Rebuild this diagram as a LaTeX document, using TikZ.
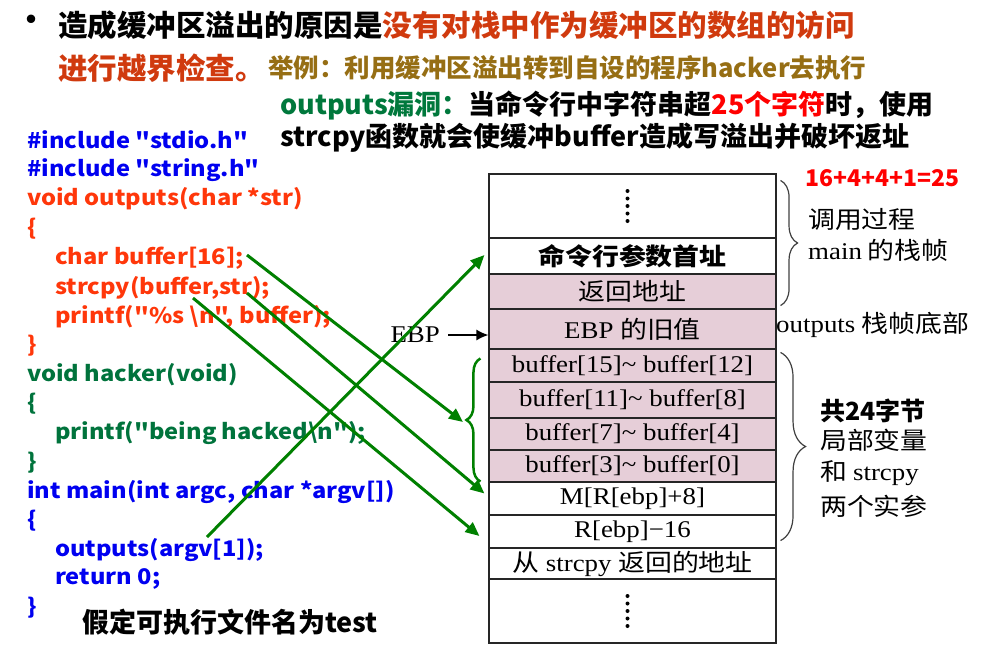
\documentclass[tikz,border=0pt]{standalone}
\usepackage{fontspec}
\setmainfont{Liberation Serif}
\newfontfamily\cjk{Noto Sans CJK SC}
\newfontfamily\codefont{Noto Sans CJK SC}[FakeStretch=1.1]
\newfontfamily\stk{Liberation Serif}[FakeStretch=1.12]
\newfontfamily\stkzh{Noto Sans CJK SC}[FakeStretch=1.12]
\usepackage{xcolor}
\usetikzlibrary{arrows.meta,positioning,calc,decorations.pathreplacing}

\definecolor{warnred}{RGB}{208,58,14}
\definecolor{olive}{RGB}{150,110,20}
\definecolor{leakgreen}{RGB}{0,120,60}
\definecolor{codeblue}{RGB}{0,0,240}
\definecolor{codered}{RGB}{255,55,10}
\definecolor{codegreen}{RGB}{0,115,60}
\definecolor{arrowgreen}{RGB}{0,128,0}
\definecolor{stackpink}{RGB}{230,206,216}

\newcommand{\zh}[1]{{\stkzh #1}}

\tikzset{
  hd/.style={anchor=west, inner sep=0pt, font={\cjk\bfseries\fontsize{29.5pt}{33pt}\selectfont}},
  hdsmall/.style={anchor=west, inner sep=0pt, font={\cjk\bfseries\fontsize{27pt}{31pt}\selectfont}},
  code/.style={anchor=west, inner sep=0pt, font={\codefont\bfseries\fontsize{21.5pt}{25pt}\selectfont}},
  slot/.style={draw=black!85, line width=1.1pt, minimum width=287pt, inner sep=0pt,
    font={\stk\fontsize{24pt}{28pt}\selectfont}},
  pinkslot/.style={slot, fill=stackpink},
  note/.style={anchor=west, inner sep=0pt, font={\stkzh\fontsize{24pt}{28pt}\selectfont}},
  garrow/.style={draw=arrowgreen, line width=3pt, -{Triangle[length=14pt,width=12pt]}},
  curly/.style={decorate, decoration={brace, amplitude=#1}, draw=black!75, line width=1.2pt}
}

\begin{document}
\begin{tikzpicture}[x=1pt, y=-1pt, >=Stealth]
  \useasboundingbox (0,0) rectangle (1001,657);

  % Heading
  \node[anchor=center, inner sep=0pt, font={\cjk\fontsize{40pt}{40pt}\selectfont}] (dot) at (31,25) {•};
  \node[hd] (l1) at (58,25) {造成缓冲区溢出的原因是\textcolor{warnred}{没有对栈中作为缓冲区的数组的访问}};
  \node[hd, text=warnred] (l2) at (58,68) {进行越界检查。};
  \node[anchor=west, inner sep=0pt, text=olive, font={\cjk\bfseries\fontsize{25.5pt}{29pt}\selectfont}] (eg) at (268,68) {举例：利用缓冲区溢出转到自设的程序hacker去执行};
  \node[hdsmall] (l3) at (280,105) {\textcolor{leakgreen}{outputs漏洞：}当命令行中字符串超\textcolor{red}{25个字符}时，使用};
  \node[hdsmall] (l4) at (280,138) {strcpy函数就会使缓冲buffer造成写溢出并破坏返址};

  % Source code
  \node[code, text=codeblue] (c1) at (27,140) {\#include "stdio.h"};
  \node[code, text=codeblue] (c2) at (27,170) {\#include "string.h"};
  \node[code, text=codered] (c3) at (27,199) {void outputs(char *str)};
  \node[code, text=codered] (c4) at (27,229) {\{};
  \node[code, text=codered] (c5) at (55,258) {char buffer[16];};
  \node[code, text=codered] (c6) at (55,288) {strcpy(buffer,str);};
  \node[code, text=codered] (c7) at (55,317) {printf("\%s \textbackslash n", buffer);};
  \node[code, text=codered] (c8) at (27,346) {\}};
  \node[code, text=codegreen] (c9) at (27,375) {void hacker(void)};
  \node[code, text=codegreen] (c10) at (27,404) {\{};
  \node[code, text=codegreen] (c11) at (55,433) {printf("being hacked\textbackslash n");};
  \node[code, text=codegreen] (c12) at (27,463) {\}};
  \node[code, text=codeblue] (c13) at (27,492) {int main(int argc, char *argv[])};
  \node[code, text=codeblue] (c14) at (27,521) {\{};
  \node[code, text=codeblue] (c15) at (55,550) {outputs(argv[1]);};
  \node[code, text=codeblue] (c16) at (55,579) {return 0;};
  \node[code, text=codeblue] (c17) at (27,608) {\}};
  \node[hdsmall] (fname) at (82,622) {假定可执行文件名为test};

  % Stack slots
  \node[slot, minimum height=64pt] (r0) at (632.5,206) {};
  \node[slot, minimum height=36pt, font={\stkzh\bfseries\fontsize{24pt}{28pt}\selectfont}] (r1) at (632.5,256) {命令行参数首址};
  \node[pinkslot, minimum height=35pt] (r2) at (632.5,291.5) {\zh{返回地址}};
  \node[pinkslot, minimum height=40pt] (r3) at (632.5,329) {EBP \zh{的旧值}};
  \node[pinkslot, minimum height=33pt] (r4) at (632.5,365.5) {buffer[15]\textasciitilde\ buffer[12]};
  \node[pinkslot, minimum height=36pt] (r5) at (632.5,400) {buffer[11]\textasciitilde\ buffer[8]};
  \node[pinkslot, minimum height=32pt] (r6) at (632.5,434) {buffer[7]\textasciitilde\ buffer[4]};
  \node[pinkslot, minimum height=32pt] (r7) at (632.5,466) {buffer[3]\textasciitilde\ buffer[0]};
  \node[slot, minimum height=33pt] (r8) at (632.5,498.5) {M[R[ebp]+8]};
  \node[slot, minimum height=33pt] (r9) at (632.5,531.5) {R[ebp]−16};
  \node[slot, minimum height=31pt] (r10) at (632.5,563.5) {\zh{从} strcpy \zh{返回的地址}};
  \node[slot, minimum height=64pt] (r11) at (632.5,611) {};
  \foreach \k in {0,...,4} {
    \fill ($(r0.center)+(-5,-15+7.5*\k)$) circle (2pt);
    \fill ($(r11.center)+(-5,-15+7.5*\k)$) circle (2pt);
  }

  % Labels on the right
  \node[anchor=west, inner sep=0pt, text=red, font={\cjk\bfseries\fontsize{23pt}{26pt}\selectfont}] (sum) at (805,178) {16+4+4+1=25};
  \node[note] (callp) at (808,219) {调用过程};
  \node[note] (mainf) at (808,250) {{\stk main} 的栈帧};
  \node[note] (outb) at (776,325) {{\stk outputs} 栈帧底部};
  \node[anchor=west, inner sep=0pt, font={\cjk\bfseries\fontsize{25pt}{28pt}\selectfont}] (total) at (820,411) {共24字节};
  \node[note] (loc) at (820,440) {局部变量};
  \node[note] (andc) at (820,473) {和 {\stk strcpy}};
  \node[note] (args) at (820,506) {两个实参};

  \draw[curly=17pt] (r0.north east) ++(4,7) coordinate (b1a) -- ($(r2.south east)+(4,-4)$) coordinate (b1b);
  \draw[curly=25pt] ($(r4.north east)+(4,4)$) coordinate (b2a) -- ($(r9.south east)+(4,-8)$) coordinate (b2b);

  % EBP pointer
  \node[anchor=east, inner sep=0pt, font={\stk\fontsize{24pt}{28pt}\selectfont}] (ebp) at (440,335) {EBP};
  \draw[-{Latex[length=12pt,width=11pt]}, line width=1.6pt] ([xshift=8pt]ebp.east) -- (ebp.east -| r3.west);

  % Green brace and arrows
  \draw[decorate, decoration={brace, amplitude=14pt}, draw=arrowgreen, line width=2.5pt]
    ($(r7.south west)+(-8,-1)$) -- ($(r4.north west)+(-8,10)$);
  \coordinate (bufdecl) at (247,255);
  \coordinate (cpyA) at (247,293);
  \coordinate (cpyB) at (193,298);
  \coordinate (callsite) at (207,537);
  \coordinate (gtip) at (463,422);
  \draw[garrow] (bufdecl) -- (gtip);
  \draw[garrow] (cpyA) -- ([shift={(-4,-5)}]r8.west);
  \draw[garrow] (cpyB) -- ([shift={(-9,4.5)}]r9.west);
  \draw[garrow] (callsite) -- ([shift={(-4,-1)}]r1.west);
\end{tikzpicture}
\end{document}
